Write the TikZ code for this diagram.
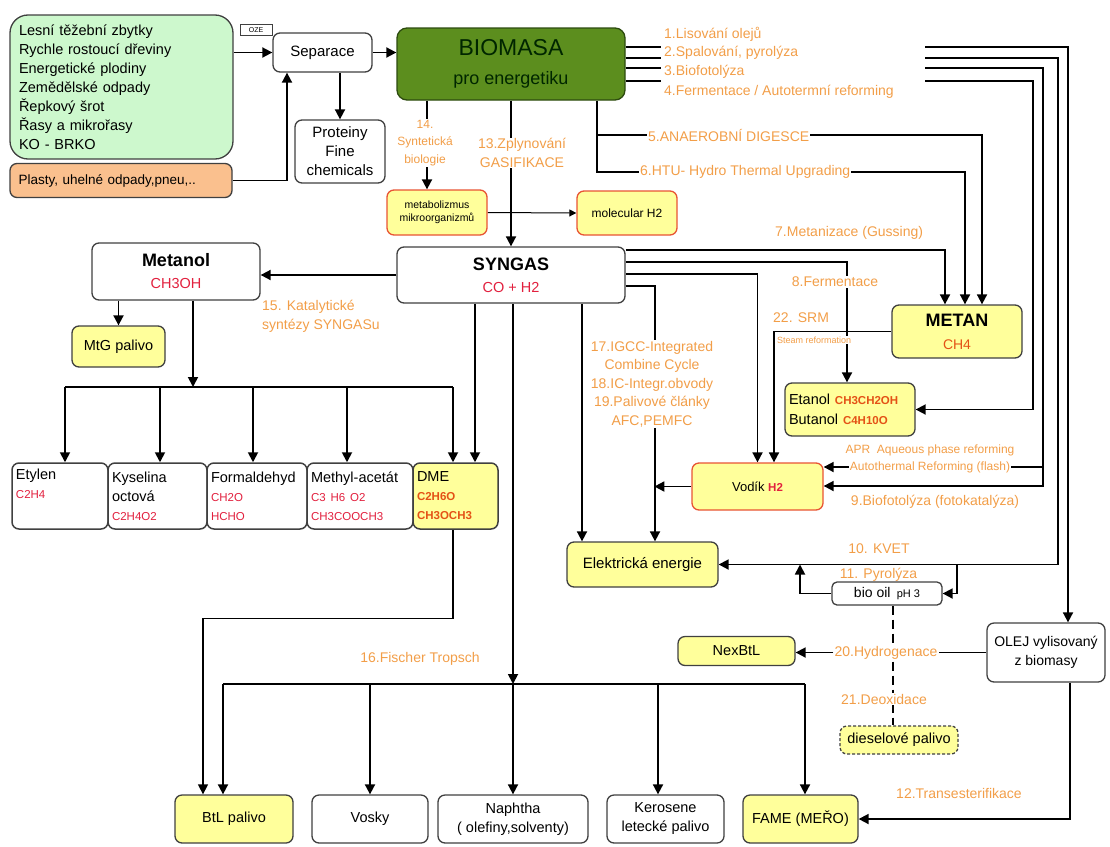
\documentclass[tikz,border=0pt]{standalone}
\usepackage{fontspec}
\setmainfont{Liberation Sans}
\usetikzlibrary{arrows.meta,backgrounds}

\definecolor{zdrojgreen}{RGB}{205,248,205}
\definecolor{zdrojorange}{RGB}{250,192,142}
\definecolor{biogreen}{RGB}{92,142,30}
\definecolor{biodark}{RGB}{45,75,15}
\definecolor{palivo}{RGB}{255,255,155}
\definecolor{okraj}{RGB}{232,84,52}
\definecolor{popis}{RGB}{242,158,72}
\definecolor{vzcerv}{RGB}{226,32,62}
\definecolor{vzoran}{RGB}{228,82,22}

\newcommand{\vzorec}[2][vzcerv]{{\color{#1}\fontsize{11.5}{14}\selectfont #2}}

\begin{document}
\begin{tikzpicture}[x=1pt, y=-1pt,
    box/.style={draw=black!75, line width=1.3pt, rounded corners=7pt, fill=white, align=center, inner sep=2pt, font=\fontsize{14.5}{19}\selectfont},
    ybox/.style={box, fill=palivo},
    rbox/.style={box, fill=palivo, draw=okraj},
    radek/.style={box, line width=1.5pt, minimum height=66pt, align=left, font=\fontsize{14.5}{19}\selectfont},
    popisek/.style={text=popis, font=\fontsize{14}{18.5}\selectfont, inner sep=1pt},
    sipka/.style={line width=1.8pt, -{Triangle[length=10pt,width=10pt]}},
    cara/.style={line width=1.8pt}]
\useasboundingbox (0,0) rectangle (1110,846);

\node[box, fill=zdrojgreen, rounded corners=18pt, minimum width=223pt, minimum height=144pt, text width=205pt, align=left] (zdroje) at (121.5,87) {Lesní těžební zbytky\\Rychle rostoucí dřeviny\\Energetické plodiny\\Zemědělské odpady\\Řepkový šrot\\Řasy a mikrořasy\\KO - BRKO};
\node[box, fill=zdrojorange, minimum width=222pt, minimum height=34pt, text width=205pt, align=left, font=\fontsize{13.5}{16}\selectfont] (plasty) at (121,180.5) {Plasty, uhelné odpady,pneu,..};
\node[draw=black!75, line width=0.8pt, fill=white, inner sep=1pt, minimum width=32pt, minimum height=11pt, font=\fontsize{7}{8}\selectfont] (oze) at (256,30) {OZE};
\node[box, minimum width=99pt, minimum height=39pt, font=\fontsize{15}{18}\selectfont] (separace) at (322.5,52.5) {Separace};
\node[box, minimum width=90pt, minimum height=63pt, font=\fontsize{15}{19}\selectfont] (proteiny) at (340,151.5) {Proteiny\\Fine\\chemicals};
\node[box, fill=biogreen, draw=biodark, rounded corners=10pt, minimum width=228pt, minimum height=72pt, text=black!85!green, font=\fontsize{18}{29}\selectfont] (biomasa) at (511,64) {{\fontsize{23}{29}\selectfont BIOMASA}\\pro energetiku};

\node[rbox, minimum width=100pt, minimum height=45pt, font=\fontsize{10.5}{13}\selectfont] (metab) at (437,212.5) {metabolizmus\\mikroorganizmů};
\node[rbox, minimum width=100pt, minimum height=44pt, font=\fontsize{12}{14}\selectfont] (molh2) at (627,213) {molecular H2};
\node[box, minimum width=228pt, minimum height=56pt, font=\fontsize{14.5}{22}\selectfont] (syngas) at (511,275) {{\bfseries\fontsize{18}{22}\selectfont SYNGAS}\\\textcolor{vzcerv}{CO + H2}};
\node[box, minimum width=168pt, minimum height=57pt, font=\fontsize{14.5}{22}\selectfont] (metanol) at (176,271.5) {{\bfseries\fontsize{18}{22}\selectfont Metanol}\\\textcolor{vzcerv}{CH3OH}};
\node[ybox, minimum width=93pt, minimum height=41pt] (mtg) at (118.5,346.5) {MtG palivo};

\node[radek, minimum width=96pt, text width=88pt] (etylen) at (60,496) {Etylen\\\vzorec{C2H4}\\\strut};
\node[radek, minimum width=99pt, text width=91pt] (kyselina) at (157.5,496) {Kyselina\\octová\\\vzorec{C2H4O2}};
\node[radek, minimum width=100pt, text width=92pt] (formaldehyd) at (257,496) {Formaldehyd\\\vzorec{CH2O}\\\vzorec{HCHO}};
\node[radek, minimum width=106pt, text width=98pt] (methyl) at (360,496) {Methyl-acetát\\\vzorec{C3 H6 O2}\\\vzorec{CH3COOCH3}};
\node[radek, fill=palivo, minimum width=85pt, text width=77pt] (dme) at (455.5,496) {DME\\\vzorec[vzoran]{\bfseries C2H6O}\\\vzorec[vzoran]{\bfseries CH3OCH3}};

\node[ybox, minimum width=130pt, minimum height=53pt, font=\fontsize{14}{23}\selectfont] (metan) at (957,331.5) {{\bfseries\fontsize{18}{23}\selectfont METAN}\\\textcolor{vzoran}{CH4}};
\node[ybox, minimum width=130pt, minimum height=53pt, text width=122pt, align=left, font=\fontsize{14.5}{20}\selectfont] (etanol) at (850,409.5) {Etanol \vzorec[vzoran]{\bfseries CH3CH2OH}\\Butanol \vzorec[vzoran]{\bfseries C4H10O}};
\node[rbox, minimum width=131pt, minimum height=47pt, font=\fontsize{13}{16}\selectfont] (vodik) at (757.5,486.5) {Vodík \textbf{\vzorec{H2}}};
\node[ybox, minimum width=151pt, minimum height=45pt, font=\fontsize{15}{18}\selectfont] (elektr) at (642.5,564.5) {Elektrická energie};
\node[box, minimum width=110pt, minimum height=23pt, rounded corners=5pt, inner sep=1pt, font=\fontsize{14}{16}\selectfont] (biooil) at (887,593.5) {bio oil \,{\fontsize{11}{13}\selectfont pH 3}};
\node[box, minimum width=118pt, minimum height=59pt, font=\fontsize{14}{19}\selectfont] (olej) at (1046,652.5) {OLEJ vylisovaný\\z biomasy};
\node[ybox, minimum width=117pt, minimum height=29pt] (nexbtl) at (736.5,651) {NexBtL};
\node[ybox, dash pattern=on 3pt off 2pt, minimum width=118pt, minimum height=28pt] (diesel) at (899,740) {dieselové palivo};

\node[ybox, minimum width=118pt, minimum height=48pt] (btl) at (234,819) {BtL palivo};
\node[box, minimum width=116pt, minimum height=48pt] (vosky) at (370,819) {Vosky};
\node[box, minimum width=150pt, minimum height=48pt] (naphtha) at (513,819) {Naphtha\\( olefiny,solventy)};
\node[box, minimum width=117pt, minimum height=48pt] (kerosene) at (665.5,819) {Kerosene\\letecké palivo};
\node[ybox, minimum width=115pt, minimum height=48pt] (fame) at (800.5,819) {FAME (MEŘO)};

\node[popisek, anchor=west] (l1) at (663,34) {1.Lisování olejů};
\node[popisek, anchor=west] (l2) at (663,53) {2.Spalování, pyrolýza};
\node[popisek, anchor=west] (l3) at (663,72) {3.Biofotolýza};
\node[popisek, anchor=west] (l4) at (663,92) {4.Fermentace / Autotermní reforming};
\node[popisek, anchor=west] (l5) at (647,135) {5.ANAEROBNÍ DIGESCE};
\node[popisek, anchor=west] (l6) at (639,172) {6.HTU- Hydro Thermal Upgrading};
\node[popisek, anchor=west] (l7) at (774,233) {7.Metanizace (Gussing)};
\node[popisek, fill=white] (l8) at (835,282) {8.Fermentace};
\node[popisek, anchor=west] (l22) at (772,318) {22. SRM};
\node[popisek, fill=white, anchor=west, font=\fontsize{9}{10}\selectfont] (steam) at (776,340) {Steam reformation};
\node[popisek, fill=white, align=center] (l13) at (522,153) {13.Zplynování\\GASIFIKACE};
\node[popisek, fill=white, align=center, font=\fontsize{12}{17.5}\selectfont] (l14) at (425,143) {14.\\Syntetická\\biologie};
\node[popisek, anchor=west, align=left] (l15) at (261,316.5) {15. Katalytické\\syntézy SYNGASu};
\node[popisek, fill=white, align=center] (l17) at (652,384) {17.IGCC-Integrated\\Combine Cycle\\18.IC-Integr.obvody\\19.Palivové články\\AFC,PEMFC};
\node[popisek, font=\fontsize{12}{14}\selectfont] (lapr) at (930,450) {APR \ Aqueous phase reforming};
\node[popisek, font=\fontsize{12}{14}\selectfont] (lauto) at (930,467) {Autothermal Reforming (flash)};
\node[popisek] (l9) at (935,502) {9.Biofotolýza (fotokatalýza)};
\node[popisek] (l10) at (879,549) {10. KVET};
\node[popisek] (l11) at (878.5,575) {11. Pyrolýza};
\node[popisek, fill=white] (l20) at (886,652.5) {20.Hydrogenace};
\node[popisek, fill=white] (l21) at (884,699) {21.Deoxidace};
\node[popisek] (l12) at (959,793) {12.Transesterifikace};
\node[popisek] (l16) at (420,659) {16.Fischer Tropsch};

\coordinate (p1) at (925,47);
\coordinate (p2) at (925,58);
\coordinate (p3) at (925,68);
\coordinate (p4) at (925,81);
\coordinate (q2) at (1058,564.5);
\coordinate (q3) at (1043,486);
\coordinate (q4) at (1033,409.5);
\coordinate (q5) at (957,564.5);
\coordinate (q6) at (800,564.5);
\coordinate (busl) at (65,387);
\coordinate (busr) at (453,387);
\coordinate (ft) at (513,684);
\coordinate (ftl) at (223,684);
\coordinate (ftr) at (805,684);

\begin{scope}[on background layer]
\draw[sipka] (zdroje.east |- separace.west) -- (separace.west);
\draw[sipka] (plasty.east) -| ([xshift=-35.5pt]separace.south);
\draw[sipka] (proteiny.north |- separace.south) -- (proteiny.north);
\draw[sipka] (separace.east) -- (separace.east -| biomasa.west);

\foreach \p in {p1,p2,p3,p4}
  \draw[cara] (biomasa.east |- \p) -- ++(35,0);
\draw[sipka] (p1) -| ([xshift=22pt]olej.north);
\draw[sipka] (p2) -| (q2) -- (q2 -| elektr.east);
\draw[sipka] (p3) -| (q3) -- (q3 -| vodik.east);
\draw[sipka] (p4) -| (q4) -- (q4 -| etanol.east);
\draw[cara] (lauto.east) -- (lauto.east -| q3);
\draw[sipka] (lauto.west) -- (lauto.west -| vodik.east);
\draw[sipka] (q5) |- (biooil.east);
\draw[sipka] (biooil.west) -| (q6);

\draw[cara] ([xshift=86pt]biomasa.south) |- (l6.west);
\draw[cara] ([xshift=86pt]biomasa.south |- l5.west) -- (l5.west);
\draw[sipka] (l5.east) -| ([xshift=25pt]metan.north);
\draw[sipka] (l6.east) -| ([xshift=8pt]metan.north);

\draw[sipka] (biomasa.south) -- (syngas.north);
\draw[sipka] ([xshift=-84pt]biomasa.south) -- ([xshift=-84pt]biomasa.south |- metab.north);
\draw[line width=1pt, -{Triangle[length=7pt,width=7pt]}] (metab.east) -- (molh2.west);

\draw[sipka] ([yshift=25pt]syngas.east) -| ([xshift=-12pt]metan.north);
\draw[sipka] ([yshift=13pt]syngas.east) -| ([xshift=-3pt]etanol.north);
\draw[sipka] ([yshift=1pt]syngas.east) -| (vodik.north);
\draw[sipka] ([yshift=-11pt]syngas.east) -| ([xshift=12.5pt]elektr.north);
\draw[sipka] (metan.west) -| ([xshift=16.5pt]vodik.north);
\draw[sipka] (vodik.west) -- ++(-37,0);
\draw[sipka] ([xshift=71pt]syngas.south) -- ([xshift=71pt]syngas.south |- elektr.north);
\draw[sipka] ([xshift=2pt]syngas.south) -- (ft);
\draw[sipka] (ft) -- (naphtha.north);
\draw[sipka] ([xshift=-36pt]syngas.south) -- ([xshift=-36pt]syngas.south |- dme.north);
\draw[sipka] (syngas.west) -- (syngas.west -| metanol.east);

\draw[sipka] (mtg.north |- metanol.south) -- (mtg.north);
\draw[sipka] ([xshift=17pt]metanol.south) -- ([xshift=17pt]metanol.south |- busl);
\draw[cara] (busl) -- (busr);
\foreach \n/\s in {etylen/5,kyselina/2.5,formaldehyd/-4,methyl/-13,dme/-2.5}
  \draw[sipka] ([xshift=\s pt]\n.north |- busl) -- ([xshift=\s pt]\n.north);
\draw[line width=1.3pt, -{Triangle[length=10pt,width=10pt]}] ([xshift=-2.5pt]dme.south) -- ++(0,89) -| ([xshift=-31pt]btl.north);

\draw[cara] (ftl) -- (ftr);
\draw[sipka] (ftl) -- (ftl |- btl.north);
\draw[sipka] (vosky.north |- ft) -- (vosky.north);
\draw[sipka] ([xshift=-7.5pt]kerosene.north |- ft) -- ([xshift=-7.5pt]kerosene.north);
\draw[sipka] (ftr) -- (ftr |- fame.north);

\draw[sipka] ([xshift=24pt]olej.south) |- (fame.east);
\draw[cara] (olej.west) -- (olej.west -| l20.east);
\draw[sipka] (l20.west) -- (l20.west -| nexbtl.east);
\draw[cara, dash pattern=on 9pt off 5pt] ([xshift=6pt]biooil.south) -- ([xshift=6pt]biooil.south |- diesel.north);
\end{scope}
\end{tikzpicture}
\end{document}
